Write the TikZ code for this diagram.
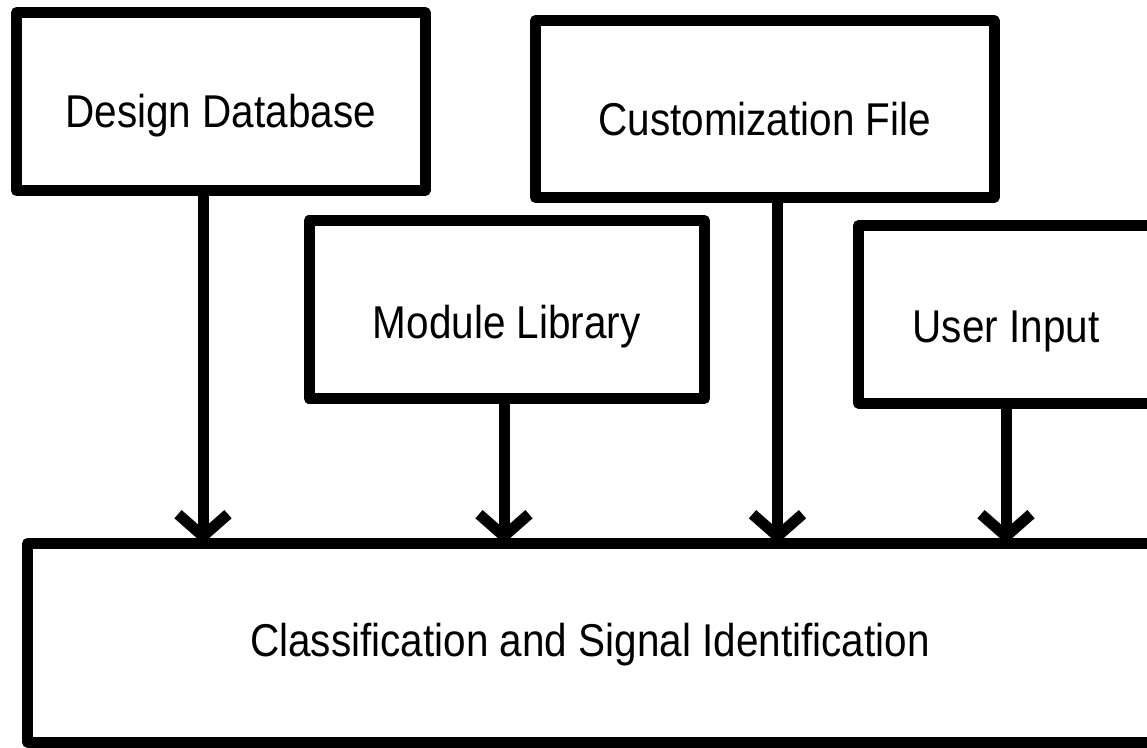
\documentclass[tikz,border=0pt]{standalone}
\usepackage{fontspec}
\newfontfamily\boxfont[FakeStretch=0.88]{Liberation Sans}
\usetikzlibrary{arrows.meta}
\begin{document}
\begin{tikzpicture}[x=1pt,y=-1pt,
  box/.style={draw, line width=11pt, line join=round, inner sep=0pt,
    font=\boxfont\fontsize{46}{50}\selectfont, text depth=0pt},
  feed/.style={line width=11pt, -{Straight Barb[length=22pt,width=50pt]}}]
\useasboundingbox (0,0) rectangle (1147,747);
\clip (0,0) rectangle (1147,747);
\fill[white] (0,0) rectangle (1147,747);
\node[box, minimum width=408.5pt, minimum height=178pt, text height=51pt] (dd) at (220.75,101.5) {Design Database};
\node[box, minimum width=458.5pt, minimum height=177pt, text height=53pt] (cf) at (764.75,109) {Customization File};
\node[box, minimum width=395.5pt, minimum height=178pt, text height=58pt] (ml) at (506.75,309.5) {Module Library};
\node[box, minimum width=295pt, minimum height=177.5pt, text height=57pt] (ui) at (1006,314.25) {User Input};
\node[box, minimum width=1125pt, minimum height=198.5pt, text height=28pt] (csi) at (590,642.75) {Classification and Signal Identification};
\coordinate (tdd) at (203,543.5);
\coordinate (tml) at (504,543.5);
\coordinate (tcf) at (777.5,543.5);
\coordinate (tui) at (1006,543.5);
\draw[feed] (dd.south -| tdd) -- (tdd);
\draw[feed] (ml.south -| tml) -- (tml);
\draw[feed] (cf.south -| tcf) -- (tcf);
\draw[feed] (ui.south -| tui) -- (tui);
\end{tikzpicture}
\end{document}
